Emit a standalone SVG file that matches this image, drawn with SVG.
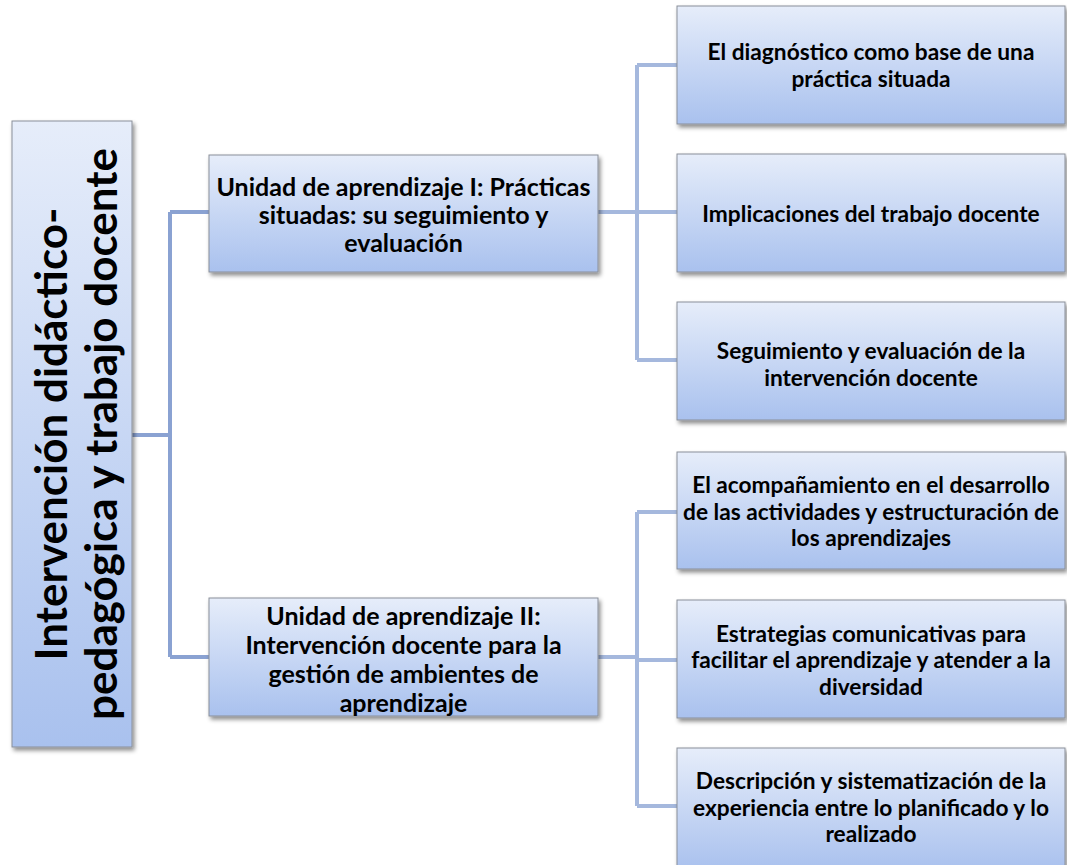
<svg xmlns="http://www.w3.org/2000/svg" width="1067" height="865" viewBox="0 0 1067 865">
<defs>
<linearGradient id="g" x1="0" y1="0" x2="0" y2="1">
<stop offset="0" stop-color="#e6edfa"/>
<stop offset="1" stop-color="#a9c1ee"/>
</linearGradient>
<filter id="sh" x="-10%" y="-10%" width="125%" height="130%">
<feDropShadow dx="2" dy="3" stdDeviation="2" flood-color="#000" flood-opacity="0.45"/>
</filter>
</defs>
<style>
.box{fill:url(#g);stroke:#8a8f99;stroke-width:1;filter:url(#sh)}
.t{font-family:Lato,"Liberation Sans",sans-serif;font-weight:bold;font-size:22.7px;fill:#000;text-anchor:middle;dominant-baseline:central}
.u{font-size:25px}
.r{font-size:44px}
.c{fill:none;stroke:#8aa2d2;stroke-width:4}
.c2{fill:none;stroke:#a5b8dd;stroke-width:4}
</style>
<g id="connectors">
<path class="c" d="M132 435 H170 M170 212 V657 M170 212 H209 M170 657 H209"/>
<path class="c2" d="M598 212 H637 M637 65 V360 M637 65 H677 M637 212 H677 M637 360 H677"/>
<path class="c2" d="M598 657 H637 M637 512 V806 M637 512 H677 M637 660 H677 M637 806 H677"/>
</g>
<g id="root">
<rect class="box" x="12" y="121" width="120" height="626"/>
<text class="t r" transform="translate(50 434) rotate(-90)" x="0" y="0">Intervención didáctico-</text>
<text class="t r" transform="translate(100 434) rotate(-90)" x="0" y="0">pedagógica y trabajo docente</text>
</g>
<g id="unidad1">
<rect class="box" x="209" y="155" width="389" height="117"/>
<text class="t u" x="403.5" y="186">Unidad de aprendizaje I: Prácticas</text>
<text class="t u" x="403.5" y="214">situadas: su seguimiento y</text>
<text class="t u" x="403.5" y="242">evaluación</text>
</g>
<g id="unidad2">
<rect class="box" x="209" y="598" width="389" height="118"/>
<text class="t u" x="403.5" y="615">Unidad de aprendizaje II:</text>
<text class="t u" x="403.5" y="644">Intervención docente para la</text>
<text class="t u" x="403.5" y="673">gestión de ambientes de</text>
<text class="t u" x="403.5" y="702">aprendizaje</text>
</g>
<g id="n1">
<rect class="box" x="677" y="6" width="388" height="118"/>
<text class="t" x="871" y="51">El diagnóstico como base de una</text>
<text class="t" x="871" y="78">práctica situada</text>
</g>
<g id="n2">
<rect class="box" x="677" y="154" width="388" height="118"/>
<text class="t" x="871" y="213">Implicaciones del trabajo docente</text>
</g>
<g id="n3">
<rect class="box" x="677" y="302" width="388" height="118"/>
<text class="t" x="871" y="350">Seguimiento y evaluación de la</text>
<text class="t" x="871" y="377">intervención docente</text>
</g>
<g id="n4">
<rect class="box" x="677" y="452" width="388" height="117"/>
<text class="t" x="871" y="484">El acompañamiento en el desarrollo</text>
<text class="t" x="871" y="511">de las actividades y estructuración de</text>
<text class="t" x="871" y="537">los aprendizajes</text>
</g>
<g id="n5">
<rect class="box" x="677" y="600" width="388" height="118"/>
<text class="t" x="871" y="633">Estrategias comunicativas para</text>
<text class="t" x="871" y="659">facilitar el aprendizaje y atender a la</text>
<text class="t" x="871" y="686">diversidad</text>
</g>
<g id="n6">
<rect class="box" x="677" y="748" width="388" height="122"/>
<text class="t" x="871" y="780">Descripción y sistematización de la</text>
<text class="t" x="871" y="807">experiencia entre lo planificado y lo</text>
<text class="t" x="871" y="833">realizado</text>
</g>
</svg>
